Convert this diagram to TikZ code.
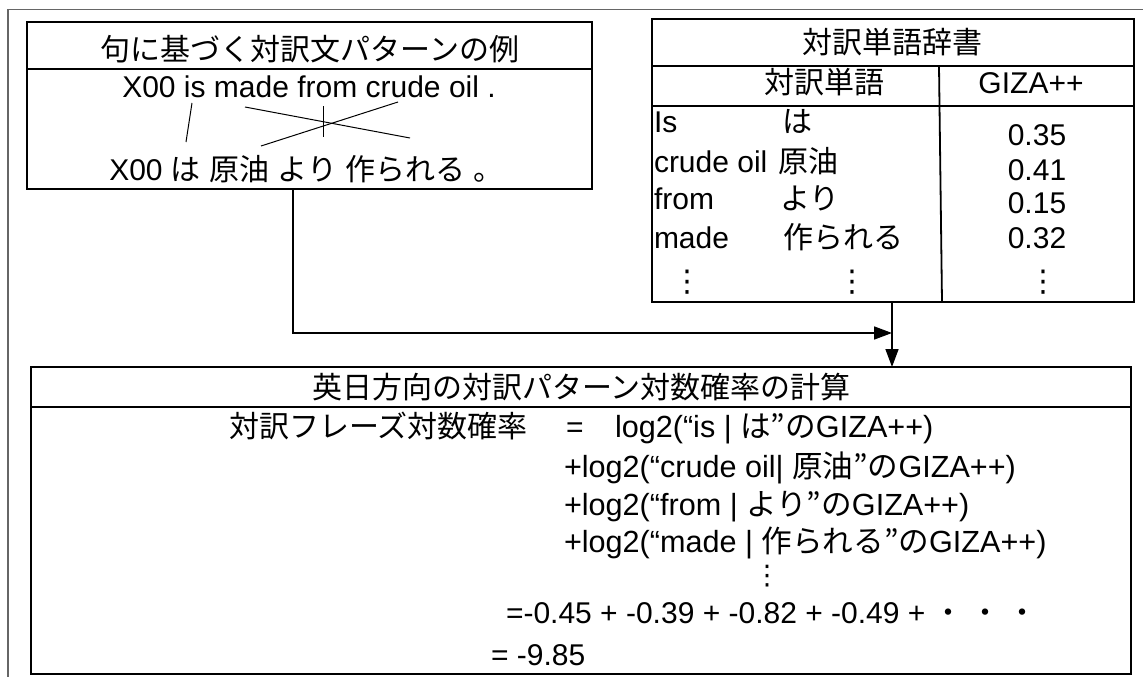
\documentclass[tikz,border=0pt]{standalone}
\usepackage{fontspec}
\setmainfont{Liberation Sans}
\newfontfamily\jpf{Noto Sans CJK JP}
\newfontfamily\symf{DejaVu Sans}
\newcommand\JA[1]{{\jpf #1}}
\newcommand\VD{{\symf ⋮}}
\usetikzlibrary{arrows.meta,calc}
\begin{document}
\begin{tikzpicture}[x=1pt,y=-1pt,
  box/.style={draw, line width=1.8pt, inner sep=0pt, outer sep=0pt, rectangle},
  rule/.style={line width=1.8pt},
  txt/.style={inner sep=0pt, outer sep=0pt, font=\fontsize{30}{34}\selectfont},
  big/.style={font=\fontsize{30.6}{34}\selectfont},
  tb/.style={txt, anchor=base},
  tw/.style={txt, anchor=base west},
  link/.style={line width=1pt},
  conn/.style={line width=1.6pt, -{Triangle[length=18pt,width=13pt]}},
  frame/.style={line width=1.3pt, draw=black!60}
]
\useasboundingbox (0,0) rectangle (1143,677);
\draw[frame] (8,677) -- (8,9.5) -- (1143,9.5);

% Box 1
\node[box, minimum width=565pt, minimum height=167pt] (b1) at (309.5,105.5) {};
\draw[rule] ($(b1.north west)+(0,47)$) -- ($(b1.north east)+(0,47)$);
\node[tb] (h1) at (310,61) {\JA{句に基づく対訳文パターンの例}};
\node[tb] (e1) at (309,97) {X00 is made from crude oil .};
\node[tb] (j1) at (306.5,180) {X00 \JA{は} \JA{原油} \JA{より} \JA{作られる} \JA{。}};
\draw[link] (192,103) -- (186,142);
\draw[link] (245,107) -- (410,138);
\draw[link] (323,106) -- (323,137);
\draw[link] (398,102) -- (261,146);

% Box 2
\node[box, minimum width=482pt, minimum height=283pt] (b2) at (893,160.5) {};
\draw[rule] ($(b2.north west)+(0,47)$) -- ($(b2.north east)+(0,47)$);
\draw[rule] ($(b2.north west)+(0,87)$) -- ($(b2.north east)+(0,87)$);
\draw[rule] ($(b2.north west)+(287,47)$) -- ($(b2.south west)+(290,0)$);
\node[tb] (h2) at (892,53.5) {\JA{対訳単語辞書}};
\node[tb] (c1) at (824,93) {\JA{対訳単語}};
\node[tb] (c2) at (1031,93) {GIZA++};
\node[tw] (w1) at (654,132) {Is};
\node[tw] (k1) at (782,132) {\JA{は}};
\node[tw] (w2) at (654,172) {crude oil};
\node[tw] (k2) at (778,172) {\JA{原油}};
\node[tw] (w3) at (654,209) {from};
\node[tw] (k3) at (780,209) {\JA{より}};
\node[tw] (w4) at (654,248) {made};
\node[tw] (k4) at (783,248) {\JA{作られる}};
\node[tb] (n1) at (1037,145) {0.35};
\node[tb] (n2) at (1037,180) {0.41};
\node[tb] (n3) at (1037,213) {0.15};
\node[tb] (n4) at (1037,248) {0.32};
\node[txt] (d1) at (687,282) {\VD};
\node[txt] (d2) at (852,282) {\VD};
\node[txt] (d3) at (1043,282) {\VD};

% Box 3
\node[box, minimum width=1100pt, minimum height=307pt] (b3) at (581,520.5) {};
\draw[rule] ($(b3.north west)+(0,40)$) -- ($(b3.north east)+(0,40)$);
\node[tb] (h3) at (581.5,398) {\JA{英日方向の対訳パターン対数確率の計算}};
\node[tw] (f0) at (229,437) {\JA{対訳フレーズ対数確率}};
\node[tb] (eq) at (575,437) {=};
\node[tw, big] (f1) at (615,437) {log2(“is | \JA{は”の}GIZA++)};
\node[tw, big] (f2) at (564,477) {+log2(“crude oil| \JA{原油”の}GIZA++)};
\node[tw, big] (f3) at (564,515) {+log2(“from | \JA{より”の}GIZA++)};
\node[tw, big] (f4) at (564,552) {+log2(“made | \JA{作られる”の}GIZA++)};
\node[txt, font=\fontsize{27}{30}\selectfont] (d4) at (767,576) {\VD};
\node[tw] (s1) at (506,623) {=-0.45 + -0.39 + -0.82 + -0.49 + \JA{・ ・ ・}};
\node[tw] (s2) at (491,665) {= -9.85};

% connectors
\coordinate (j) at (892,333);
\draw[conn] ($(b1.south west)+(266,0)$) |- (j);
\draw[conn] (b2.south -| j) -- (b3.north -| j);
\end{tikzpicture}
\end{document}
